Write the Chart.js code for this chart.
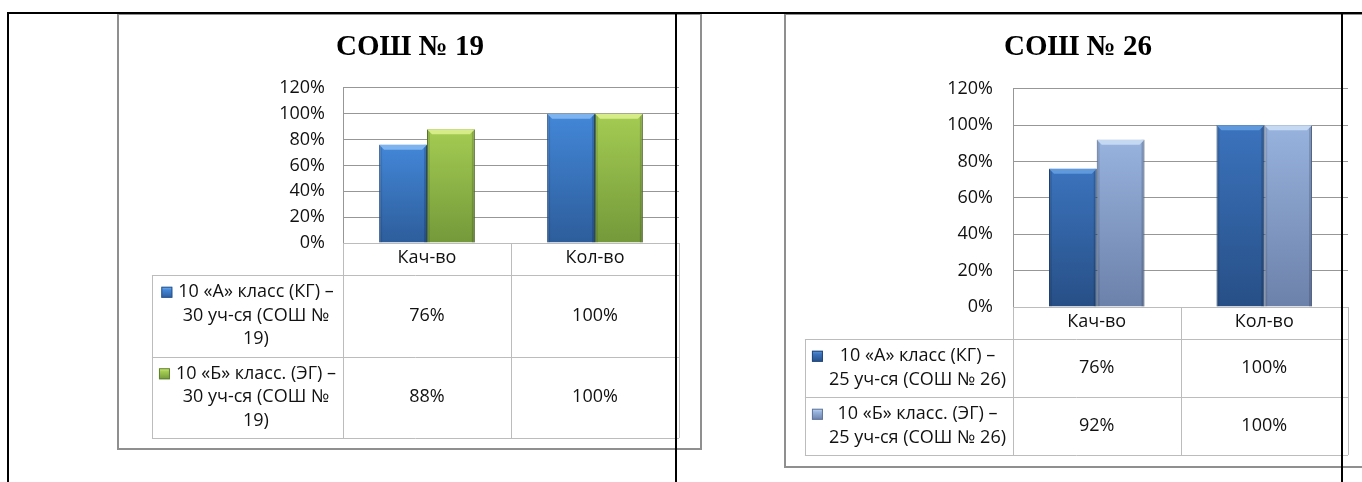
<!DOCTYPE html>
<html lang="ru">
<head>
<meta charset="utf-8">
<title>СОШ № 19 / СОШ № 26</title>
<script src="https://cdn.jsdelivr.net/npm/chart.js@4.4.1/dist/chart.umd.min.js"></script>
<style>
  html, body { margin: 0; padding: 0; background: #fff; }
  body { width: 1362px; height: 482px; position: relative; overflow: hidden; }
  .frame { position: absolute; box-sizing: border-box; border: 2px solid #8f8f8f; background: #fff; }
  .rule { position: absolute; background: #000; z-index: 5; }
  canvas { position: absolute; }
</style>
</head>
<body>
<div class="frame" style="left:117px;top:13px;width:585px;height:437px"></div>
<div class="frame" style="left:784px;top:13px;width:620px;height:455px"></div>
<canvas id="c19" width="581" height="433" style="left:119px;top:15px"></canvas>
<canvas id="c26" width="576" height="451" style="left:786px;top:15px"></canvas>
<div class="rule" style="left:7px;top:12px;width:1355px;height:2px"></div>
<div class="rule" style="left:7px;top:12px;width:2px;height:470px"></div>
<div class="rule" style="left:675px;top:12px;width:2px;height:470px"></div>
<div class="rule" style="left:1341px;top:12px;width:2px;height:470px"></div>
<script>
// data
const categories = ['Кач-во', 'Кол-во'];
const yTickValues = [0, 20, 40, 60, 80, 100, 120];

const title19 = 'СОШ № 19';
const series19A = ['10 «А» класс (КГ) –', '30 уч-ся (СОШ №', '19)'];
const series19B = ['10 «Б» класс. (ЭГ) –', '30 уч-ся (СОШ №', '19)'];
const values19A = [76, 100];
const values19B = [88, 100];

const title26 = 'СОШ № 26';
const series26A = ['10 «А» класс (КГ) –', '25 уч-ся (СОШ № 26)'];
const series26B = ['10 «Б» класс. (ЭГ) –', '25 уч-ся (СОШ № 26)'];
const values26A = [76, 100];
const values26B = [92, 100];

// styles
const TEXT_FONT = '"Open Sans", "Noto Sans", sans-serif';
const FONT_SIZE = 18;
const LINE_H = 23.5;
const ROW_PAD = 11;
const HEAD_H = 32;
const TABLE_LINE = '#bcbcbc';
const GRID_LINE = '#979797';

const blue19 = { top: '#4387d8', bottom: '#2d5d9b', bevel: '#7db3ee', edge: '#2a568f' };
const green19 = { top: '#a4cc52', bottom: '#73993a', bevel: '#d5ec88', edge: '#5f8030' };
const blue26 = { top: '#3b73bd', bottom: '#274f86', bevel: '#6199dd', edge: '#22467a' };
const light26 = { top: '#97b3de', bottom: '#6c81aa', bevel: '#c6d9f3', edge: '#62769c' };

function barGradient(col) {
  return (context) => {
    const chart = context.chart;
    if (!chart.chartArea || context.type !== 'data') return col.top;
    const y = chart.scales.y;
    const top = y.getPixelForValue(context.raw);
    const bottom = y.getPixelForValue(0);
    const g = chart.ctx.createLinearGradient(0, top, 0, bottom);
    g.addColorStop(0, col.top);
    g.addColorStop(1, col.bottom);
    return g;
  };
}

// top bevel + darker sides, like the old office 3d bars
const bevelPlugin = {
  id: 'bevel',
  afterDatasetsDraw(chart) {
    const ctx = chart.ctx;
    chart.data.datasets.forEach((ds, i) => {
      chart.getDatasetMeta(i).data.forEach(bar => {
        const { x, y, base, width } = bar.getProps(['x', 'y', 'base', 'width'], true);
        const l = x - width / 2, r = x + width / 2, d = 5;
        ctx.save();
        ctx.fillStyle = 'rgba(0,0,0,0.10)';
        ctx.fillRect(l, y, 3, base - y);
        ctx.fillStyle = 'rgba(0,0,0,0.16)';
        ctx.fillRect(r - 3, y, 3, base - y);
        ctx.fillStyle = ds.colors.bevel;
        ctx.beginPath();
        ctx.moveTo(l, y);
        ctx.lineTo(r, y);
        ctx.lineTo(r - d, y + d);
        ctx.lineTo(l + d, y + d);
        ctx.closePath();
        ctx.fill();
        ctx.restore();
      });
    });
  }
};

function rowHeights(datasets) {
  return datasets.map(ds => ds.lines.length * LINE_H + ROW_PAD);
}

// data table under the plot, columns follow the category scale
const tablePlugin = {
  id: 'dataTable',
  afterDraw(chart) {
    const { ctx, chartArea: area, scales: { x } } = chart;
    const sets = chart.data.datasets;
    const n = chart.data.labels.length;
    ctx.save();
    ctx.font = FONT_SIZE + 'px ' + TEXT_FONT;
    const rowsH = rowHeights(sets);
    const maxW = Math.max(...sets.flatMap(ds => ds.lines.map(t => ctx.measureText(t).width)));
    const legendW = maxW + 31;
    const left = area.left - legendW;
    const top = area.bottom;
    const colW = (x.right - x.left) / n;
    const bottom = top + HEAD_H + rowsH.reduce((a, b) => a + b, 0);
    const px = v => Math.round(v) + 0.5;

    ctx.strokeStyle = TABLE_LINE;
    ctx.lineWidth = 1;
    ctx.beginPath();
    ctx.moveTo(area.left, px(top)); ctx.lineTo(area.right, px(top));
    let yy = top + HEAD_H;
    ctx.moveTo(left, px(yy)); ctx.lineTo(area.right, px(yy));
    rowsH.forEach(h => {
      yy += h;
      ctx.moveTo(left, px(yy)); ctx.lineTo(area.right, px(yy));
    });
    ctx.moveTo(px(left), top + HEAD_H); ctx.lineTo(px(left), bottom);
    for (let k = 0; k <= n; k++) {
      const cx = px(area.left + k * colW);
      ctx.moveTo(cx, top); ctx.lineTo(cx, bottom);
    }
    ctx.stroke();

    ctx.fillStyle = '#111';
    ctx.textBaseline = 'middle';
    ctx.textAlign = 'center';
    let rowTop = top + HEAD_H;
    sets.forEach((ds, r) => {
      const h = rowsH[r];
      const startY = rowTop + (h - ds.lines.length * LINE_H) / 2;
      const w = Math.max(...ds.lines.map(t => ctx.measureText(t).width));
      const blockX = left + (legendW - (17 + w)) / 2;
      const textCx = blockX + 17 + w / 2;
      ds.lines.forEach((t, j) => {
        ctx.fillText(t, textCx, startY + (j + 0.5) * LINE_H);
      });
      // legend key
      const ky = startY + LINE_H / 2 - 5.5;
      const g = ctx.createLinearGradient(0, ky, 0, ky + 11);
      g.addColorStop(0, ds.colors.bevel);
      g.addColorStop(0.3, ds.colors.top);
      g.addColorStop(1, ds.colors.bottom);
      ctx.fillStyle = g;
      ctx.fillRect(blockX, ky, 11, 11);
      ctx.strokeStyle = ds.colors.edge;
      ctx.strokeRect(blockX + 0.5, ky + 0.5, 10, 10);
      ctx.fillStyle = '#111';
      ds.data.forEach((v, i) => {
        ctx.fillText(v + '%', area.left + (i + 0.5) * colW, rowTop + h / 2);
      });
      rowTop += h;
    });
    ctx.restore();
  }
};

function makeChart(id, title, sets, geo) {
  const datasets = sets.map(s => ({
    label: s.lines.join(' '),
    lines: s.lines,
    colors: s.colors,
    data: s.values,
    backgroundColor: barGradient(s.colors),
    borderColor: s.colors.edge,
    borderWidth: 1,
    categoryPercentage: 0.57,
    barPercentage: 1
  }));
  const tableH = HEAD_H + rowHeights(datasets).reduce((a, b) => a + b, 0);
  return new Chart(document.getElementById(id).getContext('2d'), {
    type: 'bar',
    data: { labels: categories, datasets },
    options: {
      responsive: false,
      animation: false,
      devicePixelRatio: 1,
      layout: { padding: { left: geo.padLeft, right: geo.padRight, top: 0, bottom: geo.padBottom } },
      plugins: {
        legend: { display: false },
        tooltip: { enabled: false },
        title: {
          display: true,
          text: title,
          color: '#000',
          font: { family: '"Liberation Serif", "Times New Roman", serif', size: 29, weight: 'bold' },
          padding: { top: 15, bottom: geo.titleBottom }
        }
      },
      scales: {
        x: {
          grid: { display: false, drawTicks: false },
          border: { display: false },
          ticks: { color: '#111', font: { family: TEXT_FONT, size: FONT_SIZE }, padding: 4, maxRotation: 0, autoSkip: false },
          afterFit: scale => { scale.height = tableH; }
        },
        y: {
          min: yTickValues[0],
          max: yTickValues[yTickValues.length - 1],
          grid: { color: GRID_LINE, drawTicks: false },
          border: { display: true, color: GRID_LINE },
          ticks: {
            stepSize: yTickValues[1] - yTickValues[0],
            color: '#111',
            font: { family: TEXT_FONT, size: FONT_SIZE },
            padding: geo.yPad,
            callback: v => v + '%'
          },
          afterFit: scale => { scale.width = geo.yWidth; }
        }
      }
    },
    plugins: [bevelPlugin, tablePlugin]
  });
}

makeChart('c19', title19, [
  { lines: series19A, values: values19A, colors: blue19 },
  { lines: series19B, values: values19B, colors: green19 }
], { padLeft: 22, padRight: 21, padBottom: 10, yWidth: 202, yPad: 18, titleBottom: 23 });

makeChart('c26', title26, [
  { lines: series26A, values: values26A, colors: blue26 },
  { lines: series26B, values: values26B, colors: light26 }
], { padLeft: 22, padRight: 14, padBottom: 11, yWidth: 205, yPad: 20, titleBottom: 24 });
</script>
</body>
</html>
